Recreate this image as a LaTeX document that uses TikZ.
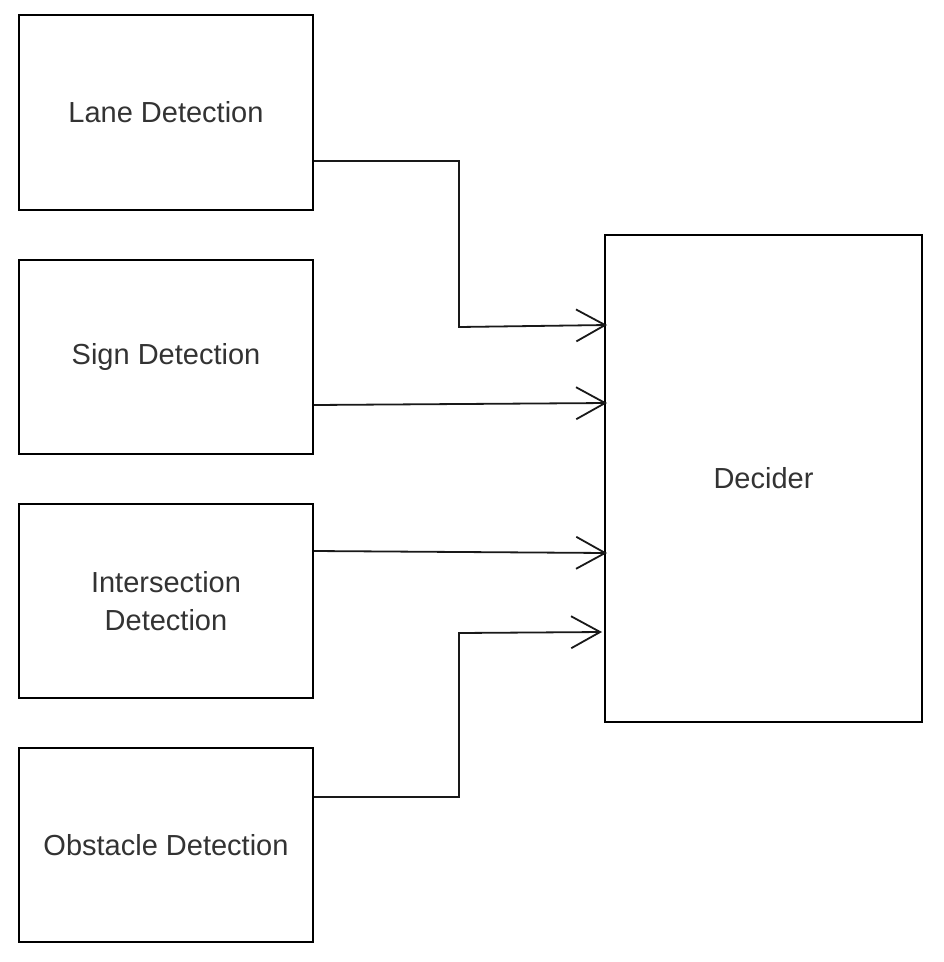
\documentclass[tikz,border=0pt]{standalone}
\usepackage{fontspec}
\setmainfont{Liberation Sans}
\usetikzlibrary{arrows.meta}
\begin{document}
\begin{tikzpicture}[x=1pt,y=-1pt,
  box/.style={draw=black, line width=2pt, fill=white, inner sep=0pt, align=center,
    font=\fontsize{29}{38}\selectfont, text=black!80},
  conn/.style={draw=black!90, line width=1.8pt,
    -{Straight Barb[length=29pt,width=32pt,line width=1.8pt]}}]
\useasboundingbox (0,0) rectangle (944,962);
\node[box, minimum width=294pt, minimum height=195pt] (lane) at (166,112.5) {Lane Detection};
\node[box, minimum width=294pt, minimum height=194pt] (sign) at (166,357) {Sign Detection};
\node[box, minimum width=294pt, minimum height=194pt] (inter) at (166,601) {Intersection\\Detection};
\node[box, minimum width=294pt, minimum height=194pt] (obst) at (166,845) {Obstacle Detection};
\node[box, minimum width=317pt, minimum height=487pt] (dec) at (763.5,478.5) {Decider};
\coordinate (t1) at (607,325);
\coordinate (t2) at (607,403);
\coordinate (t3) at (607,553);
\coordinate (t4) at (602,632);
\draw[conn] (lane.east |- 0,161) -- (459,161) -- (459,327) -- (t1);
\draw[conn] (sign.east |- 0,405) -- (t2);
\draw[conn] (inter.east |- 0,551) -- (t3);
\draw[conn] (obst.east |- 0,797) -- (459,797) -- (459,633) -- (t4);
\end{tikzpicture}
\end{document}
